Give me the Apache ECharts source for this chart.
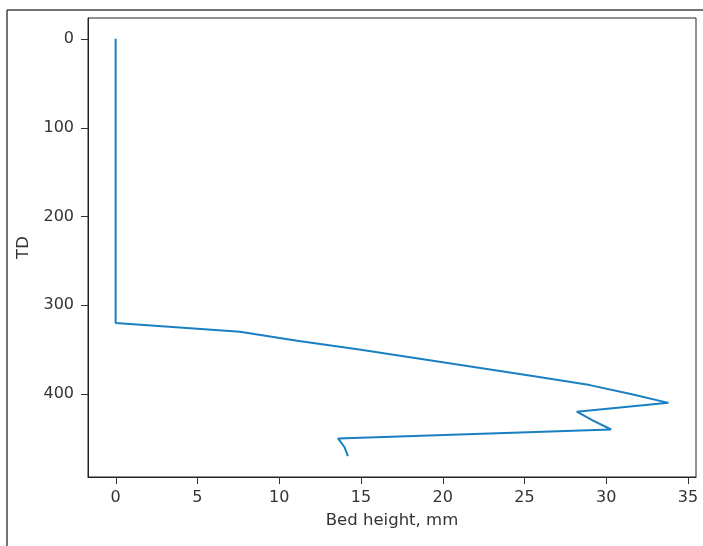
<!DOCTYPE html>
<html>
<head>
<meta charset="utf-8">
<script src="https://cdn.jsdelivr.net/npm/echarts@6/dist/echarts.min.js"></script>
<style>html,body{margin:0;padding:0;background:#fff;}#c{width:703px;height:546px;}</style>
</head>
<body>
<div id="c"></div>
<script>
const td = [0,10,20,30,40,50,60,70,80,90,100,110,120,130,140,150,160,170,180,190,200,210,220,230,240,250,260,270,280,290,300,310,320,330,340,350,360,370,380,390,400,410,420,430,440,450,460,470];
const bedHeight = [0,0,0,0,0,0,0,0,0,0,0,0,0,0,0,0,0,0,0,0,0,0,0,0,0,0,0,0,0,0,0,0,0,7.6,11.1,14.9,18.5,22.0,25.6,29.0,31.5,33.8,28.2,29.2,30.3,13.6,14.0,14.2];
const xTicks = [0,5,10,15,20,25,30,35];
const yTicks = [0,100,200,300,400];

const xMin = -1.69, xMax = 35.49, yMin = -23.5, yMax = 493.5;
const chart = echarts.init(document.getElementById('c'), null, {renderer:'canvas'});
const font = 'DejaVu Sans';
const ink = '#333';
const TL = 7;
chart.setOption({
  animation:false,
  backgroundColor:'#fff',
  grid:{left:88,right:7,top:18,bottom:69,show:true,borderColor:'#222',borderWidth:1,backgroundColor:'transparent'},
  xAxis:{
    type:'value', min:xMin, max:xMax, position:'bottom',
    name:'Bed height, mm', nameLocation:'middle', nameGap:35,
    nameTextStyle:{fontFamily:font,fontSize:16.5,color:ink},
    axisLine:{show:true,onZero:false,lineStyle:{color:'#222',width:1}},
    splitLine:{show:false},
    axisTick:{show:false},
    axisLabel:{customValues:xTicks,fontFamily:font,fontSize:16,color:ink,margin:13}
  },
  yAxis:{
    type:'value', inverse:true, min:yMin, max:yMax, position:'left',
    name:'TD', nameLocation:'middle', nameGap:52, nameRotate:90,
    nameTextStyle:{fontFamily:font,fontSize:16.5,color:ink},
    axisLine:{show:true,onZero:false,lineStyle:{color:'#222',width:1}},
    splitLine:{show:false},
    axisTick:{show:false},
    axisLabel:{customValues:yTicks,fontFamily:font,fontSize:16,color:ink,margin:14}
  },
  graphic:[
    {type:'line',shape:{x1:7,y1:10,x2:703,y2:10},style:{stroke:'#444',lineWidth:1.5},silent:true},
    {type:'line',shape:{x1:7,y1:10,x2:7,y2:546},style:{stroke:'#444',lineWidth:1.5},silent:true}
  ],
  series:[{
    type:'line',
    data: td.map((t,i)=>[bedHeight[i], t]),
    showSymbol:false,
    symbol:'none',
    lineStyle:{color:'#1a7fc1',width:2},
    itemStyle:{color:'#1a7fc1'}
  },{
    type:'custom', silent:true, clip:false,
    data: xTicks.map(v=>[v, yMax]),
    renderItem:function(params, api){
      const p = api.coord([api.value(0), yMax]);
      const x = Math.round(p[0]) + 0.5;
      return {type:'line', shape:{x1:x,y1:p[1],x2:x,y2:p[1]+TL}, style:{stroke:ink,lineWidth:1}};
    }
  },{
    type:'custom', silent:true, clip:false,
    data: yTicks.map(v=>[xMin, v]),
    renderItem:function(params, api){
      const p = api.coord([xMin, api.value(1)]);
      const y = Math.round(p[1]) + 0.5;
      return {type:'line', shape:{x1:p[0]-TL,y1:y,x2:p[0],y2:y}, style:{stroke:ink,lineWidth:1}};
    }
  }]
});
</script>
</body>
</html>
